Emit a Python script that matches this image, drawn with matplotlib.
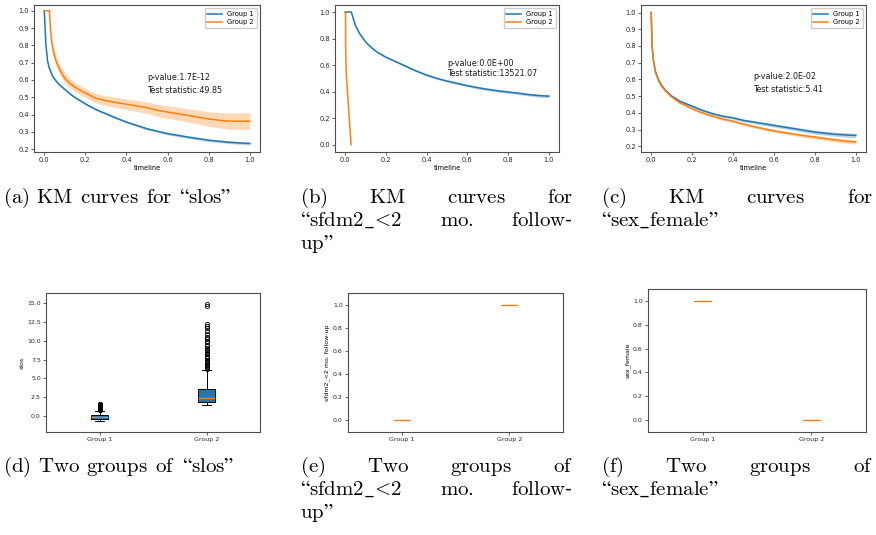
import matplotlib
matplotlib.use("Agg")
import matplotlib.pyplot as plt
from matplotlib.ticker import MultipleLocator

plt.rcParams['mathtext.fontset'] = 'cm'

# ------------------------------------------------------------------ data
group_names = ['Group 1', 'Group 2']
p_values = ['1.7E-12', '0.0E+00', '2.0E-02']
test_stats = ['49.85', '13521.07', '5.41']

# (a) KM curves for "slos"
a_t1 = [0, 0.008, 0.016, 0.024, 0.041, 0.06, 0.08, 0.106, 0.13, 0.155, 0.2, 0.25,
        0.3, 0.35, 0.4, 0.5, 0.6, 0.7, 0.8, 0.9, 1.0]
a_s1 = [1.0, 0.80, 0.71, 0.67, 0.62, 0.59, 0.565, 0.54, 0.515, 0.495, 0.462, 0.43,
        0.405, 0.38, 0.357, 0.318, 0.29, 0.27, 0.252, 0.24, 0.233]
a_lo1 = [1.0, 0.795, 0.705, 0.665, 0.615, 0.585, 0.56, 0.535, 0.51, 0.49, 0.456, 0.424,
         0.399, 0.374, 0.351, 0.311, 0.283, 0.262, 0.244, 0.232, 0.225]
a_hi1 = [1.0, 0.805, 0.715, 0.675, 0.625, 0.595, 0.57, 0.545, 0.52, 0.5, 0.468, 0.436,
         0.411, 0.386, 0.363, 0.325, 0.297, 0.278, 0.26, 0.248, 0.241]
a_t2 = [0, 0.025, 0.03, 0.035, 0.045, 0.06, 0.08, 0.1, 0.13, 0.16, 0.2, 0.25, 0.3,
        0.35, 0.4, 0.45, 0.5, 0.55, 0.6, 0.65, 0.7, 0.75, 0.8, 0.87, 0.9, 1.0]
a_s2 = [1.0, 1.0, 0.90, 0.83, 0.76, 0.70, 0.65, 0.61, 0.575, 0.55, 0.525, 0.495, 0.48,
        0.47, 0.46, 0.45, 0.44, 0.425, 0.415, 0.405, 0.395, 0.385, 0.375, 0.365, 0.362, 0.362]
a_lo2 = [1.0, 1.0, 0.88, 0.805, 0.73, 0.67, 0.62, 0.58, 0.547, 0.523, 0.498, 0.468, 0.452,
         0.44, 0.43, 0.418, 0.407, 0.39, 0.379, 0.368, 0.357, 0.345, 0.333, 0.32, 0.315, 0.314]
a_hi2 = [1.0, 1.0, 0.92, 0.855, 0.79, 0.73, 0.68, 0.64, 0.603, 0.577, 0.552, 0.522, 0.508,
         0.50, 0.49, 0.482, 0.473, 0.46, 0.451, 0.442, 0.433, 0.425, 0.417, 0.41, 0.409, 0.41]

# (b) KM curves for "sfdm2_<2 mo. follow-up"
b_t1 = [0, 0.03, 0.04, 0.05, 0.07, 0.1, 0.13, 0.16, 0.2, 0.25, 0.3, 0.35, 0.4, 0.45,
        0.5, 0.55, 0.6, 0.65, 0.7, 0.75, 0.8, 0.85, 0.9, 0.95, 1.0]
b_s1 = [1.0, 1.0, 0.95, 0.90, 0.84, 0.775, 0.73, 0.695, 0.66, 0.625, 0.59, 0.555, 0.525,
        0.50, 0.48, 0.462, 0.445, 0.43, 0.417, 0.406, 0.397, 0.388, 0.378, 0.37, 0.366]
b_lo1 = [1.0, 1.0, 0.946, 0.895, 0.835, 0.769, 0.724, 0.689, 0.653, 0.618, 0.583, 0.547, 0.517,
         0.492, 0.471, 0.453, 0.436, 0.42, 0.407, 0.396, 0.386, 0.377, 0.367, 0.358, 0.354]
b_hi1 = [1.0, 1.0, 0.954, 0.905, 0.845, 0.781, 0.736, 0.701, 0.667, 0.632, 0.597, 0.563, 0.533,
         0.508, 0.489, 0.471, 0.454, 0.44, 0.427, 0.416, 0.408, 0.399, 0.389, 0.382, 0.378]
b_t2 = [0, 0.002, 0.002, 0.005, 0.013, 0.021, 0.029]
b_s2 = [1.0, 1.0, 0.77, 0.55, 0.36, 0.18, 0.0]

# (c) KM curves for "sex_female"
c_t = [0, 0.004, 0.01, 0.02, 0.035, 0.05, 0.07, 0.1, 0.14, 0.2, 0.25, 0.3, 0.35, 0.4,
       0.45, 0.5, 0.55, 0.6, 0.65, 0.7, 0.75, 0.8, 0.85, 0.9, 0.95, 1.0]
c_s1 = [1.0, 0.80, 0.72, 0.65, 0.60, 0.565, 0.535, 0.5, 0.47, 0.44, 0.415, 0.395, 0.38,
        0.37, 0.355, 0.345, 0.335, 0.325, 0.315, 0.305, 0.295, 0.285, 0.278, 0.272, 0.268, 0.265]
c_lo1 = [1.0, 0.795, 0.714, 0.644, 0.594, 0.559, 0.529, 0.494, 0.464, 0.433, 0.408, 0.388, 0.372,
         0.361, 0.346, 0.336, 0.325, 0.315, 0.305, 0.294, 0.284, 0.273, 0.266, 0.26, 0.255, 0.252]
c_hi1 = [1.0, 0.805, 0.726, 0.656, 0.606, 0.571, 0.541, 0.506, 0.476, 0.447, 0.422, 0.402, 0.388,
         0.379, 0.364, 0.354, 0.345, 0.335, 0.325, 0.316, 0.306, 0.297, 0.29, 0.284, 0.281, 0.278]
c_s2 = [1.0, 0.80, 0.72, 0.645, 0.595, 0.56, 0.53, 0.495, 0.46, 0.425, 0.40, 0.38, 0.363,
        0.35, 0.333, 0.318, 0.305, 0.292, 0.282, 0.272, 0.263, 0.255, 0.246, 0.238, 0.231, 0.226]
c_lo2 = [1.0, 0.795, 0.714, 0.639, 0.589, 0.554, 0.524, 0.489, 0.454, 0.418, 0.393, 0.373, 0.355,
         0.342, 0.325, 0.309, 0.296, 0.283, 0.272, 0.262, 0.252, 0.244, 0.235, 0.226, 0.219, 0.214]
c_hi2 = [1.0, 0.805, 0.726, 0.651, 0.601, 0.566, 0.536, 0.501, 0.466, 0.432, 0.407, 0.387, 0.371,
         0.358, 0.341, 0.327, 0.314, 0.301, 0.292, 0.282, 0.274, 0.266, 0.257, 0.25, 0.243, 0.238]

# (d) box plot of "slos" (quartiles, whiskers and outliers)
d_med = [-0.2, 2.37]
d_q1 = [-0.5, 1.79]
d_q3 = [0.1, 3.57]
d_whislo = [-0.68, 1.43]
d_whishi = [0.65, 6.16]
d_fliers1 = [0.72, 0.78, 0.84, 0.9, 0.96, 1.02, 1.08, 1.14, 1.2, 1.26, 1.32, 1.38,
             1.44, 1.5, 1.56]
d_fliers2 = [6.2, 6.35, 6.5, 6.6, 6.8, 7.0, 7.15, 7.3, 7.5, 7.7, 7.85, 8.0, 8.2, 8.4,
             8.6, 8.8, 9.0, 9.3, 9.5, 9.8, 10.0, 10.2, 10.5, 10.9, 11.3, 11.7, 12.0,
             12.2, 14.6, 14.9]

# (e), (f) binary features: every value of a group is the same
e_values = [0.0, 1.0]
f_values = [1.0, 0.0]

ylabels_bottom = ['slos', 'sfdm2_<2 mo. follow-up', 'sex_female']

# ------------------------------------------------------------------ figure
W, H = 876, 535
fig = plt.figure(figsize=(W / 100, H / 100), dpi=100)
C0, C1 = '#1f77b4', '#ff7f0e'


def px_axes(l, t, r, b):
    return fig.add_axes([l / W, 1 - b / H, (r - l) / W, (b - t) / H])


def style(ax, fs):
    for s in ax.spines.values():
        s.set_color('0.3')
        s.set_linewidth(0.8)
    ax.tick_params(labelsize=fs, length=2.2, width=0.5, pad=1.5, colors='0.15')


def km_panel(ax, curves, ylim, major, pv, ts):
    for t, s, lo, hi, col, lab in curves:
        if lo is not None:
            ax.fill_between(t, lo, hi, color=col, alpha=0.3, lw=0)
        ax.plot(t, s, color=col, lw=1.1, label=lab)
    ax.set_xlim(-0.05, 1.05)
    ax.set_ylim(*ylim)
    ax.xaxis.set_major_locator(MultipleLocator(0.2))
    ax.yaxis.set_major_locator(MultipleLocator(major))
    ax.set_xlabel('timeline', fontsize=4.8, labelpad=1.5)
    style(ax, 4.8)
    ax.legend(loc='upper right', fontsize=4.8, borderpad=0.4, labelspacing=0.35,
              handlelength=2.2, borderaxespad=0.5, framealpha=1, edgecolor='0.8')
    ax.text(0.5, 0.615, 'p-value:' + pv, fontsize=5.8, va='center', ha='left',
            transform=ax.get_xaxis_transform() if False else ax.transData, color='0.1')
    ax.text(0.5, 0.54, 'Test statistic:' + ts, fontsize=5.8, va='center', ha='left',
            color='0.1')


axa = px_axes(34, 5, 260, 152)
km_panel(axa, [(a_t1, a_s1, a_lo1, a_hi1, C0, group_names[0]),
               (a_t2, a_s2, a_lo2, a_hi2, C1, group_names[1])],
         (0.184, 1.033), 0.1, p_values[0], test_stats[0])

axb = px_axes(335, 5, 559, 152)
km_panel(axb, [(b_t1, b_s1, b_lo1, b_hi1, C0, group_names[0]),
               (b_t2, b_s2, None, None, C1, group_names[1])],
         (-0.055, 1.053), 0.2, p_values[1], test_stats[1])

axc = px_axes(641, 5, 866, 152)
km_panel(axc, [(c_t, c_s1, c_lo1, c_hi1, C0, group_names[0]),
               (c_t, c_s2, c_lo2, c_hi2, C1, group_names[1])],
         (0.166, 1.045), 0.1, p_values[2], test_stats[2])


def box_panel(ax, stats, ylim, major, ylabel):
    ax.bxp(stats, positions=[1, 2], widths=0.15, patch_artist=True,
           boxprops=dict(facecolor=C0, edgecolor='k', linewidth=0.7),
           medianprops=dict(color=C1, linewidth=1.0),
           whiskerprops=dict(color='k', linewidth=0.7),
           capprops=dict(color='k', linewidth=0.7),
           flierprops=dict(marker='o', markersize=3.0, markerfacecolor='none',
                           markeredgecolor='k', markeredgewidth=0.6))
    ax.set_xlim(0.5, 2.5)
    ax.set_ylim(*ylim)
    ax.yaxis.set_major_locator(MultipleLocator(major))
    ax.set_xticks([1, 2])
    ax.set_xticklabels(group_names)
    ax.set_ylabel(ylabel, fontsize=4.5, labelpad=2)
    style(ax, 4.5)


d_stats = []
for i, fl in enumerate([d_fliers1, d_fliers2]):
    d_stats.append(dict(med=d_med[i], q1=d_q1[i], q3=d_q3[i], whislo=d_whislo[i],
                        whishi=d_whishi[i], fliers=fl))
axd = px_axes(46, 293, 260, 432)
box_panel(axd, d_stats, (-2.2, 16.4), 2.5, ylabels_bottom[0])


def const_stats(vals):
    return [dict(med=v, q1=v, q3=v, whislo=v, whishi=v, fliers=[]) for v in vals]


axe = px_axes(348, 293, 563, 432)
box_panel(axe, const_stats(e_values), (-0.1, 1.1), 0.2, ylabels_bottom[1])
axf = px_axes(648, 289, 866, 432)
box_panel(axf, const_stats(f_values), (-0.1, 1.1), 0.2, ylabels_bottom[2])

# ------------------------------------------------------------------ captions
CAP_FS = 15
renderer = fig.canvas.get_renderer()
EM = CAP_FS * 100 / 72


def m(s):
    return r'$\text{' + s + '}$'


def caption_line(words, x0, x1, y, justify):
    texts = [fig.text(x0 / W, 1 - y / H, w, fontsize=CAP_FS, va='baseline', ha='left')
             for w in words]
    widths = [t.get_window_extent(renderer).width for t in texts]
    if justify and len(words) > 1:
        gap = (x1 - x0 - sum(widths)) / (len(words) - 1)
    else:
        gap = 0.333 * EM
    x = x0
    for t, w in zip(texts, widths):
        t.set_x(x / W)
        x += w + gap


sfdm = r'$\text{“sfdm2}\_\text{<2}$'
sexf = r'$\text{“sex}\_\text{female”}$'
slos = m('“slos”')

R1 = [203, 226, 249]
R2 = [472, 495, 518]
LX, MX0, MX1, RX0, RX1 = 3, 300, 573, 601, 873

caption_line([m('(a)'), m('KM'), m('curves'), m('for'), slos], LX, None, R1[0], False)
caption_line([m('(b)'), m('KM'), m('curves'), m('for')], MX0, MX1, R1[0], True)
caption_line([sfdm, m('mo.'), m('follow‐')], MX0, MX1, R1[1], True)
caption_line([m('up”')], MX0, None, R1[2], False)
caption_line([m('(c)'), m('KM'), m('curves'), m('for')], RX0, RX1, R1[0], True)
caption_line([sexf], RX0, None, R1[1], False)

caption_line([m('(d)'), m('Two'), m('groups'), m('of'), slos], LX, None, R2[0], False)
caption_line([m('(e)'), m('Two'), m('groups'), m('of')], MX0, MX1, R2[0], True)
caption_line([sfdm, m('mo.'), m('follow‐')], MX0, MX1, R2[1], True)
caption_line([m('up”')], MX0, None, R2[2], False)
caption_line([m('(f)'), m('Two'), m('groups'), m('of')], RX0, RX1, R2[0], True)
caption_line([sexf], RX0, None, R2[1], False)

fig.savefig('out.png', dpi=100)
